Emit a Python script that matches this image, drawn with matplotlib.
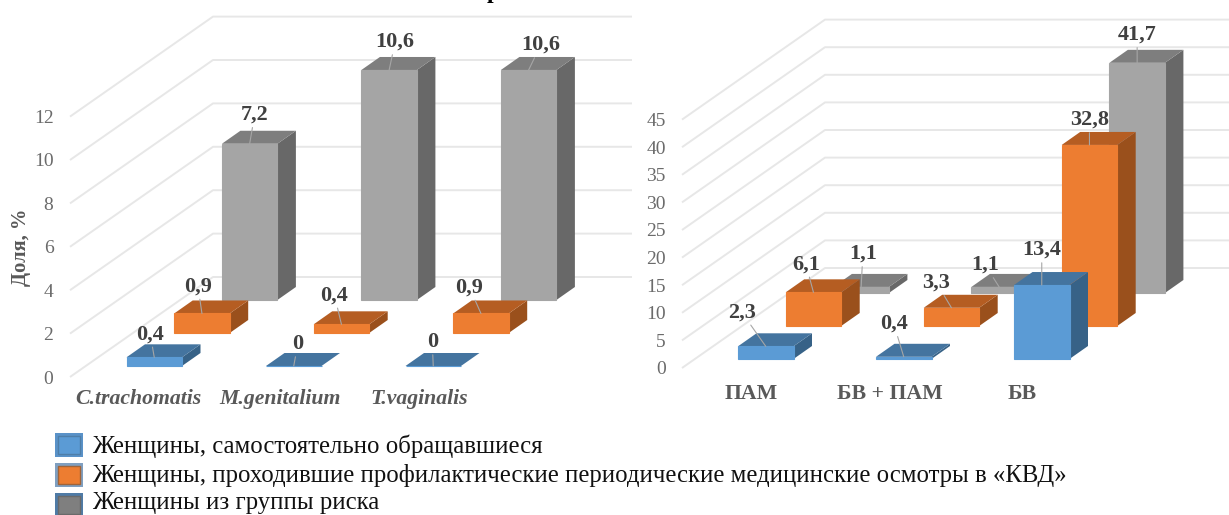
import matplotlib
matplotlib.use('Agg')
import matplotlib.pyplot as plt
from matplotlib.patches import Rectangle

W, H = 1229, 515
plt.rcParams['font.family'] = ['Liberation Serif', 'DejaVu Serif']

# pathogens panel
path_cats = ['C.trachomatis', 'M.genitalium', 'T.vaginalis']
path_self = [0.4, 0, 0]
path_exam = [0.9, 0.4, 0.9]
path_risk = [7.2, 10.6, 10.6]
path_ticks = [0, 2, 4, 6, 8, 10, 12]

# dysbiosis panel
dys_cats = ['ПАМ', 'БВ + ПАМ', 'БВ']
dys_self = [2.3, 0.4, 13.4]
dys_exam = [6.1, 3.3, 32.8]
dys_risk = [1.1, 1.1, 41.7]
dys_ticks = [0, 5, 10, 15, 20, 25, 30, 35, 40, 45]

legend_labels = [
    'Женщины, самостоятельно обращавшиеся',
    'Женщины, проходившие профилактические периодические медицинские осмотры в «КВД»',
    'Женщины из группы риска',
]

# front, top, side shades per series
SHADES = [
    ('#5b9bd5', '#44749f', '#376287'),
    ('#ed7d31', '#b55d22', '#9a501c'),
    ('#a5a5a5', '#7e7e7e', '#686868'),
]
GRID = '#e7e7e7'
TICK = '#6b6b6b'
VALUE = '#404040'

fig = plt.figure(figsize=(W / 100, H / 100), dpi=100, facecolor='white')


def fmt(v):
    return f'{v:g}'.replace('.', ',')


def draw_panel(origin, step, unit, series, cats, ticks, wall, wall_right, tick_right,
               label_offsets, cat_offsets, cat_y, cat_style):
    ox, oy = origin
    ax = fig.add_axes([0, 0, 1, 1])
    ax.set_xlim(-ox / step, (W - ox) / step)
    ax.set_ylim((oy - H) / unit, oy / unit)
    ax.axis('off')
    ax.patch.set_alpha(0)

    bar_w = 55.5 / step
    depth_x, depth_y = 18.5 / step, 13 / unit
    shift_x, shift_y = 47.7 / step, 33 / unit

    # walls: floor edge, back wall, one line per tick
    fx, fy = (wall[0] - ox) / step, (oy - wall[1]) / unit
    bx, by = 143 / step, 100 / unit
    right = (wall_right - ox) / step
    for t in ticks:
        ax.plot([fx, fx + bx, right], [fy + t, fy + t + by, fy + t + by],
                color=GRID, lw=1.4, zorder=1, solid_capstyle='butt')
        ax.text((tick_right - ox) / step, fy + t - 2 / unit, str(t), ha='right', va='center',
                fontsize=14, color=TICK)

    # back series first so that nearer bars cover it
    for s in reversed(range(len(series))):
        front, top, side = SHADES[s]
        for c, v in enumerate(series[s]):
            x0 = c + s * shift_x
            y0 = s * shift_y
            x1 = x0 + bar_w
            z = 5 + (2 - s)
            ax.fill([x1, x1 + depth_x, x1 + depth_x, x1],
                    [y0, y0 + depth_y, y0 + depth_y + v, y0 + v],
                    color=side, lw=0, zorder=z)
            ax.fill([x0, x1, x1 + depth_x, x0 + depth_x],
                    [y0 + v, y0 + v, y0 + v + depth_y, y0 + v + depth_y],
                    color=top, lw=0, zorder=z)
            ax.fill([x0, x1, x1, x0], [y0, y0, y0 + v, y0 + v],
                    facecolor=front, edgecolor=front, lw=0.8, zorder=z)

    # value labels with leader lines to the front top edge
    for s, vals in enumerate(series):
        for c, v in enumerate(vals):
            ax.annotate(fmt(v), xy=(c + s * shift_x + bar_w / 2, s * shift_y + v),
                        xytext=label_offsets[s][c], textcoords='offset pixels',
                        ha='center', va='center', fontsize=16, fontweight='bold',
                        color=VALUE, zorder=20, annotation_clip=False,
                        arrowprops=dict(arrowstyle='-', color='#a6a6a6', lw=0.8,
                                        shrinkA=0, shrinkB=0))

    for c, name in enumerate(cats):
        ax.text(c + bar_w / 2 + cat_offsets[c] / step, (oy - cat_y) / unit, name,
                ha='center', va='center', fontsize=15.7, color='#595959',
                fontweight='bold', **cat_style)
    return ax


left = draw_panel(
    origin=(126.5, 366), step=139.5, unit=21.7,
    series=[path_self, path_exam, path_risk], cats=path_cats, ticks=path_ticks,
    wall=(70, 377), wall_right=632, tick_right=53.5,
    label_offsets=[[(-4, 23), (4, 22), (-1, 24)],
                   [(-4, 27), (-7, 29), (-11.5, 26)],
                   [(5, 29), (6, 28), (12, 25)]],
    cat_offsets=[-15.5, -14, -14], cat_y=399, cat_style={'fontstyle': 'italic'},
)
left.text((21 - 126.5) / 139.5, (366 - 247) / 21.7, 'Доля, %', rotation=90,
          ha='center', va='center', fontsize=14.8, fontweight='bold', color='#595959')

draw_panel(
    origin=(738, 359), step=138, unit=5.52,
    series=[dys_self, dys_exam, dys_risk], cats=dys_cats, ticks=dys_ticks,
    wall=(682, 368), wall_right=1229, tick_right=665.8,
    label_offsets=[[(-24, 34), (-10, 33), (0, 35)],
                   [(-7.5, 28), (-15, 25), (0, 25)],
                   [(1.7, 33), (-14, 22), (0, 28)]],
    cat_offsets=[-15, -14, -20], cat_y=394, cat_style={},
)

# legend and the heading cut off by the top edge, laid out in pixels
over = fig.add_axes([0, 0, 1, 1])
over.set_xlim(0, W)
over.set_ylim(H, 0)
over.axis('off')
over.patch.set_alpha(0)

over.text(493, -2, 'р', ha='center', va='baseline', fontsize=17, fontweight='bold', color='black')

swatches = [('#5a92c8', '#5b9bd5', '#4f7ea8'), ('#7f9fc0', '#ed7d31', '#a0643a'),
            ('#4f7ba6', '#7f7f7f', '#6a6a6a')]
text_y = [446, 475.5, 502.5]
for i, label in enumerate(legend_labels):
    yc = 445 + 30 * i
    outer, fill, inner = swatches[i]
    over.add_patch(Rectangle((55, yc - 12), 28, 24, facecolor=outer, edgecolor='none'))
    over.add_patch(Rectangle((58, yc - 9), 22, 18, facecolor=fill, edgecolor=inner, lw=1))
    over.text(92, text_y[i], label, ha='left', va='center', fontsize=17.8, color='#111111')

fig.savefig('out.png', dpi=100)
